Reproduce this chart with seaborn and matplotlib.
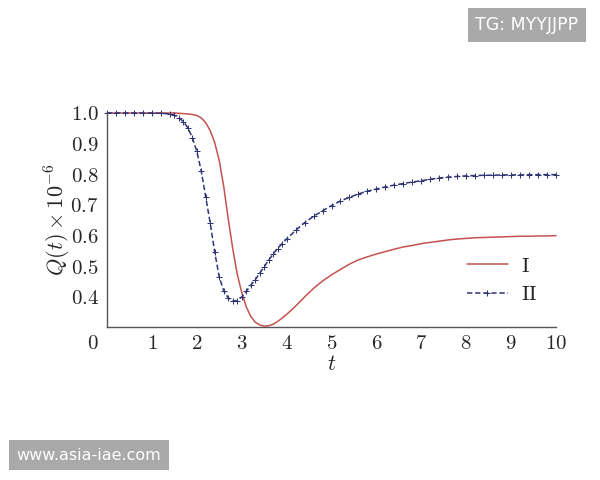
import numpy as np
import pandas as pd
import matplotlib
matplotlib.use("Agg")
import matplotlib.pyplot as plt
import matplotlib.transforms as mtransforms
import seaborn as sns

# ---- data ----
t = [0.0, 0.2, 0.4, 0.6, 0.8, 1.0, 1.2, 1.4, 1.5, 1.6, 1.7, 1.8, 1.9,
     2.0, 2.1, 2.2, 2.3, 2.4, 2.5, 2.6, 2.7, 2.8, 2.9,
     3.0, 3.1, 3.2, 3.3, 3.4, 3.5, 3.6, 3.7, 3.8, 3.9,
     4.0, 4.2, 4.4, 4.6, 4.8, 5.0, 5.2, 5.4, 5.6, 5.8,
     6.0, 6.2, 6.4, 6.6, 6.8, 7.0, 7.2, 7.4, 7.6, 7.8,
     8.0, 8.2, 8.4, 8.6, 8.8, 9.0, 9.2, 9.4, 9.6, 9.8, 10.0]

q_I = [1.0, 1.0, 1.0, 1.0, 1.0, 1.0, 1.0, 1.0, 1.0, 0.999, 0.998, 0.997, 0.995,
       0.992, 0.984, 0.968, 0.942, 0.903, 0.845, 0.76, 0.655, 0.558, 0.475,
       0.415, 0.368, 0.337, 0.318, 0.309, 0.305, 0.306, 0.311, 0.32, 0.331,
       0.343, 0.37, 0.4, 0.428, 0.452, 0.472, 0.49, 0.507, 0.521, 0.531,
       0.54, 0.548, 0.556, 0.563, 0.568, 0.574, 0.578, 0.582, 0.586, 0.589,
       0.591, 0.593, 0.594, 0.595, 0.596, 0.597, 0.598, 0.598, 0.599, 0.599, 0.6]

q_II = [1.0, 1.0, 1.0, 1.0, 1.0, 1.0, 0.999, 0.997, 0.993, 0.985, 0.972, 0.952, 0.92,
        0.875, 0.81, 0.725, 0.64, 0.545, 0.465, 0.42, 0.397, 0.388, 0.387,
        0.4, 0.418, 0.438, 0.456, 0.477, 0.498, 0.52, 0.54, 0.558, 0.574,
        0.589, 0.617, 0.642, 0.663, 0.681, 0.698, 0.713, 0.725, 0.736, 0.745,
        0.752, 0.759, 0.765, 0.77, 0.775, 0.779, 0.784, 0.788, 0.791, 0.793,
        0.795, 0.796, 0.797, 0.797, 0.798, 0.798, 0.798, 0.799, 0.799, 0.799, 0.799]

series_labels = [r"$\mathrm{I}$", r"$\mathrm{II}$"]
x_ticks = [0, 1, 2, 3, 4, 5, 6, 7, 8, 9, 10]
y_ticks = [0.4, 0.5, 0.6, 0.7, 0.8, 0.9, 1.0]

df = pd.DataFrame({
    "t": t * 2,
    "Q": q_I + q_II,
    "series": [series_labels[0]] * len(t) + [series_labels[1]] * len(t),
})

sns.set_theme(style="white")
plt.rcParams["mathtext.fontset"] = "cm"
plt.rcParams["font.family"] = ["DejaVu Serif"]

fig = plt.figure(figsize=(6, 4.8), dpi=100)
ax = fig.add_axes([107 / 600, 1 - 327 / 480, (556 - 107) / 600, (327 - 113) / 480])

red = "#c4524f"
navy = "#2f3575"

sns.lineplot(data=df[df.series == series_labels[0]], x="t", y="Q", ax=ax,
             color=red, lw=1.1, label=series_labels[0], clip_on=False)
sns.lineplot(data=df[df.series == series_labels[1]], x="t", y="Q", ax=ax,
             color=navy, lw=1.1, ls=(0, (3.5, 1.8)), marker="+", markersize=3.8,
             markeredgewidth=0.75, markeredgecolor=navy, markerfacecolor=navy,
             label=series_labels[1], clip_on=False)

ax.set_xlim(0, 10)
ax.set_ylim(0.302, 1.0)
ax.set_xticks(x_ticks)
ax.set_yticks(y_ticks)
ax.set_xticklabels([rf"${v}$" for v in x_ticks], fontsize=15)
ax.set_yticklabels([rf"${v:.1f}$" for v in y_ticks], fontsize=15)
ax.tick_params(axis="both", direction="in", length=3.5, width=0.8, color="#555555")
ax.tick_params(axis="x", pad=5)
ax.tick_params(axis="y", pad=6)

# shift the "0" label left like the reference
lbl0 = ax.get_xticklabels()[0]
lbl0.set_transform(lbl0.get_transform() + mtransforms.ScaledTranslation(-14 / 100, 0, fig.dpi_scale_trans))

for s in ["top", "right"]:
    ax.spines[s].set_visible(False)
for s in ["left", "bottom"]:
    ax.spines[s].set_color("#555555")
    ax.spines[s].set_linewidth(1.0)

ax.set_xlabel(r"$t$", fontsize=16, labelpad=0)
ax.set_ylabel(r"$Q(t)\times10^{-6}$", fontsize=16, labelpad=-2)

ax.legend(loc="lower right", bbox_to_anchor=(1.0, 0.02), frameon=False,
          fontsize=15, handlelength=2.0, handletextpad=0.6, labelspacing=0.45)

# watermarks
fig.text(527 / 600, 1 - 25 / 480, "TG: MYYJJPP", ha="center", va="center",
         color="white", fontsize=12.5, family="DejaVu Sans",
         bbox=dict(boxstyle="square,pad=0.45", fc="#a9a9a9", ec="none"))
fig.text(89 / 600, 1 - 455 / 480, "www.asia-iae.com", ha="center", va="center",
         color="white", fontsize=11.5, family="DejaVu Sans",
         bbox=dict(boxstyle="square,pad=0.5", fc="#a9a9a9", ec="none"))

fig.savefig("out.png", dpi=100)
